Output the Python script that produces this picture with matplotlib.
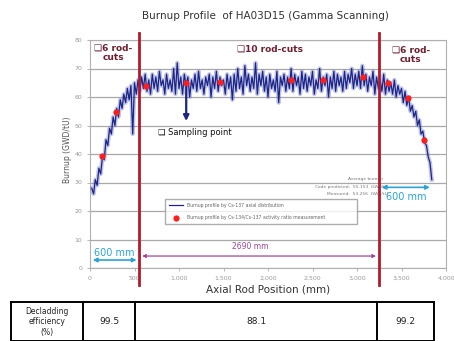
import numpy as np
import matplotlib
matplotlib.use("Agg")
import matplotlib.pyplot as plt

pos_mm = list(range(20, 3841, 20))
burnup = [28, 26, 31, 29, 35, 33, 39, 38, 45, 43,
          49, 47, 53, 50, 56, 53, 59, 56, 61, 58,
          63, 59, 64, 47, 65, 61, 66, 62, 67, 63,
          68, 62, 66, 61, 68, 63, 67, 62, 69, 64,
          66, 61, 68, 63, 66, 62, 70, 61, 72, 63,
          67, 61, 68, 64, 67, 60, 66, 63, 68, 62,
          69, 63, 66, 61, 67, 64, 68, 60, 67, 63,
          69, 62, 67, 64, 66, 61, 68, 63, 67, 59,
          68, 62, 70, 63, 67, 61, 71, 64, 68, 62,
          67, 63, 72, 61, 68, 64, 69, 62, 67, 60,
          68, 63, 66, 62, 69, 58, 67, 64, 68, 62,
          67, 63, 70, 62, 68, 64, 67, 61, 69, 63,
          68, 62, 67, 64, 69, 61, 66, 63, 70, 62,
          67, 64, 68, 60, 67, 63, 69, 62, 68, 64,
          67, 62, 69, 63, 68, 65, 70, 63, 68, 64,
          69, 63, 71, 64, 68, 62, 67, 64, 69, 61,
          67, 63, 66, 62, 68, 61, 66, 62, 65, 61,
          66, 60, 64, 61, 63, 58, 62, 57, 60, 55,
          57, 53, 55, 50, 52, 47, 48, 44, 43, 39,
          37, 31]

# puntos de muestreo (Cs-134/Cs-137)
sample_pos = [139, 293, 627, 1081, 1464, 2264, 2620, 3066, 3352, 3574, 3754]
sample_val = [39.3, 54.7, 63.9, 64.8, 65.3, 66.0, 66.0, 66.9, 65.0, 59.5, 44.9]

cut_pos = [555, 3245]
x_ticks = [0, 500, 1000, 1500, 2000, 2500, 3000, 3500, 4000]
x_ticklabels = ["0", "500", "1,000", "1,500", "2,000", "2,500", "3,000", "3,500", "4,000"]
y_ticks = [0, 10, 20, 30, 40, 50, 60, 70, 80]

table_labels = ["Decladding\nefficiency\n(%)", "99.5", "88.1", "99.2"]

W, H = 454, 341
fig = plt.figure(figsize=(W / 100, H / 100), dpi=100)
fig.patch.set_facecolor("white")

ax = fig.add_axes([90 / W, (H - 268) / H, 356 / W, 228 / H])
ax.set_xlim(0, 4000)
ax.set_ylim(0, 80)

# perfil
ax.plot(pos_mm, burnup, color="#6470c8", lw=3.0, alpha=0.4, zorder=3)
ax.plot(pos_mm, burnup, color="#1c2585", lw=0.9, zorder=4,
        label="Burnup profile by Cs-137 axial distribution")
ax.plot(sample_pos, sample_val, "o", color="#ff1e1e", ms=4.5, mec="none", zorder=6,
        label="Burnup profile by Cs-134/Cs-137 activity ratio measurement")

# lineas de corte
for xc in cut_pos:
    ax.axvline(xc, ymin=-0.075, ymax=1.03, color="#b01c2e", lw=2.0, clip_on=False, zorder=7)

# rejilla y ejes
ax.set_yticks(y_ticks)
ax.set_xticks(x_ticks)
ax.set_xticklabels(x_ticklabels)
ax.grid(axis="y", color="#a8a8a8", lw=0.9)
ax.grid(axis="x", visible=False)
ax.tick_params(labelsize=4.5, labelcolor="#9a9a9a", color="#9a9a9a", length=2, width=0.5)
for s in ax.spines.values():
    s.set_color("#b0b0b0")
    s.set_linewidth(0.8)

ax.set_xlabel("Axial Rod Position (mm)", fontsize=7.5, color="#333333", labelpad=3)
fig.text(68 / W, 1 - 150 / H, "Burnup (GWD/tU)", rotation=90, fontsize=5.5,
         color="#555555", ha="center", va="center")
fig.text(265 / W, 1 - 16 / H, "Burnup Profile  of HA03D15 (Gamma Scanning)",
         fontsize=7.5, color="#333333", ha="center", va="center")

# anotaciones de zonas
fam = ["DejaVu Sans"]
red_txt = "#6e1f2e"
ax.text(259, 75.4, "\u274f6 rod-\ncuts", ha="center", va="center", fontsize=6.5,
        fontweight="bold", color=red_txt, family=fam, linespacing=1.1)
ax.text(2027, 76.8, "\u274f10 rod-cuts", ha="center", va="center", fontsize=6.5,
        fontweight="bold", color=red_txt, family=fam)
ax.text(3604, 74.7, "\u274f6 rod-\ncuts", ha="center", va="center", fontsize=6.5,
        fontweight="bold", color=red_txt, family=fam, linespacing=1.1)

# punto de muestreo
ax.annotate("", xy=(1081, 50.6), xytext=(1081, 64.5),
            arrowprops=dict(arrowstyle="-|>", color="#1c2585", lw=1.6,
                            mutation_scale=8), zorder=8)
ax.text(766, 47.4, "\u274f Sampling point", fontsize=6, color="#111111",
        va="center", ha="left", family=fam)

# burnup promedio
ax.text(3100, 31.3, "Average burnup", fontsize=3.2, color="#777777", ha="center", va="center")
ax.text(3345, 28.5, "Code predicted:  55.153  GWd/tU", fontsize=3.2, color="#777777",
        ha="right", va="center")
ax.text(3345, 25.9, "Measured:  53.256  GWd/tU", fontsize=3.2, color="#777777",
        ha="right", va="center")

# flechas de longitudes
cyan = "#2aa3d8"
purple = "#a0469a"
ax.annotate("", xy=(0, 2.8), xytext=(cut_pos[0], 2.8),
            arrowprops=dict(arrowstyle="<|-|>", color=cyan, lw=1.2, mutation_scale=6),
            annotation_clip=False)
ax.text(40, 5.4, "600 mm", fontsize=7, color=cyan, ha="left", va="center")
ax.annotate("", xy=(cut_pos[0], 4.2), xytext=(cut_pos[1], 4.2),
            arrowprops=dict(arrowstyle="<|-|>", color=purple, lw=0.9, mutation_scale=5))
ax.text(1800, 7.4, "2690 mm", fontsize=5.5, color=purple, ha="center", va="center")
ax.annotate("", xy=(cut_pos[1], 28.3), xytext=(3850, 28.3),
            arrowprops=dict(arrowstyle="<|-|>", color=cyan, lw=1.2, mutation_scale=6))
ax.text(3550, 24.9, "600 mm", fontsize=7, color=cyan, ha="center", va="center")

# leyenda
leg = ax.legend(loc="center", bbox_to_anchor=(0.205, 0.184, 0.551, 0.127), mode="expand",
                fontsize=3.3, frameon=True, fancybox=False, edgecolor="#999999",
                handlelength=3, labelspacing=1.6, borderpad=0.9)
for t in leg.get_texts():
    t.set_color("#666666")

# tabla de eficiencia
tax = fig.add_axes([0, 0, 1, 1], facecolor="none")
tax.set_xlim(0, W)
tax.set_ylim(H, 0)
tax.axis("off")
col_edges = [11, 83, 135, 377, 434]
tax.plot([col_edges[0], col_edges[-1]], [302, 302], color="black", lw=1.4)
tax.plot([col_edges[0], col_edges[-1]], [341, 341], color="black", lw=1.4)
for xe in col_edges:
    tax.plot([xe, xe], [302, 341], color="black", lw=1.4)
for i, lab in enumerate(table_labels):
    xc = (col_edges[i] + col_edges[i + 1]) / 2
    tax.text(xc, 322, lab, ha="center", va="center",
             fontsize=5.5 if i == 0 else 6.5, color="#222222", linespacing=1.15)

fig.savefig("out.png", dpi=100)
